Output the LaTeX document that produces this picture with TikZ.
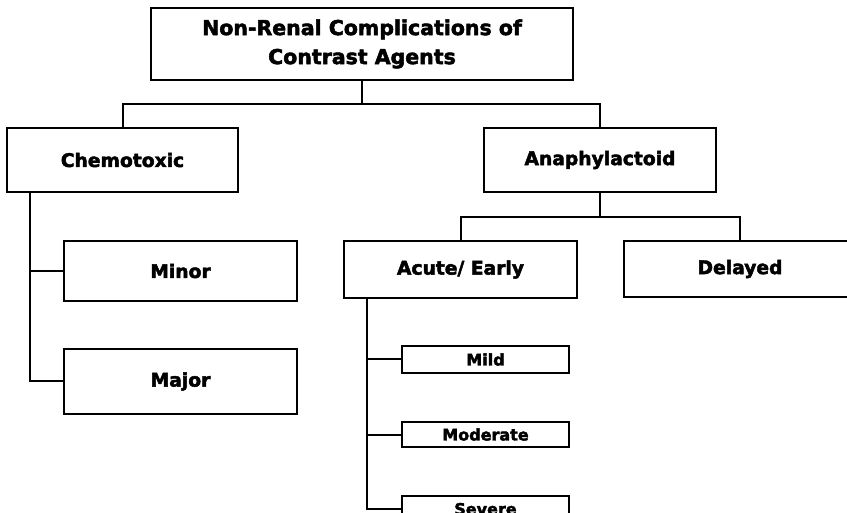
\documentclass[tikz,border=0pt]{standalone}
\usepackage{fontspec}
\setmainfont{DejaVu Sans}[BoldFeatures={FakeBold=2.5}]
\usepackage{tikz}
\usetikzlibrary{positioning,calc}

\begin{document}
\begin{tikzpicture}[x=1pt, y=-1pt, line width=2pt,
	box/.style={draw, rectangle, line width=2pt, align=center, inner sep=0pt, font=\bfseries\fontsize{18.7}{22}\selectfont},
	small/.style={box, font=\bfseries\fontsize{16}{19}\selectfont}]
	% Page frame
	\useasboundingbox (0,0) rectangle (847,513);
	\clip (0,0) rectangle (847,513);
	
	% Draw title box
	\node[box, minimum width=422pt, minimum height=72pt, font=\bfseries\fontsize{20.5}{29}\selectfont] (title) at (362,44) {Non-Renal Complications of\\Contrast Agents};
	
	% Draw main groups
	\node[box, minimum width=231pt, minimum height=64pt] (chemo) at (122.5,160) {Chemotoxic};
	\node[box, minimum width=232pt, minimum height=64pt] (anaph) at (600,160) {Anaphylactoid};
	
	% Draw chemotoxic groups
	\node[box, minimum width=233pt, minimum height=60pt] (minor) at (180.5,271) {Minor};
	\node[box, minimum width=233pt, minimum height=65pt] (major) at (180.5,381.5) {Major};
	
	% Draw anaphylactoid groups
	\node[box, minimum width=233pt, minimum height=57pt] (acute) at (460.5,269.5) {Acute/ Early};
	\node[box, minimum width=232pt, minimum height=56pt] (delayed) at (740,269) {Delayed};
	
	% Draw severity levels
	\node[small, minimum width=167pt, minimum height=27pt] (mild) at (485.5,359.5) {Mild};
	\node[small, minimum width=167pt, minimum height=25pt] (moderate) at (485.5,434.5) {Moderate};
	\node[small, minimum width=167pt, minimum height=26pt] (severe) at (485.5,509) {Severe};
	
	% Draw connectors
	\coordinate (bus) at (0,104);
	\coordinate (bus2) at (0,217);
	\draw (title.south) -- (title.south |- bus) -| (chemo.north);
	\draw (title.south |- bus) -| (anaph.north);
	\draw (anaph.south) -- (anaph.south |- bus2) -| (acute.north);
	\draw (anaph.south |- bus2) -| (delayed.north);
	
	\draw ([xshift=24pt]chemo.south west) |- (minor.west);
	\draw ([xshift=24pt]chemo.south west) |- (major.west);
	
	\draw ([xshift=24pt]acute.south west) |- (mild.west);
	\draw ([xshift=24pt]acute.south west) |- (moderate.west);
	\draw ([xshift=24pt]acute.south west) |- (severe.west);
\end{tikzpicture}
\end{document}
